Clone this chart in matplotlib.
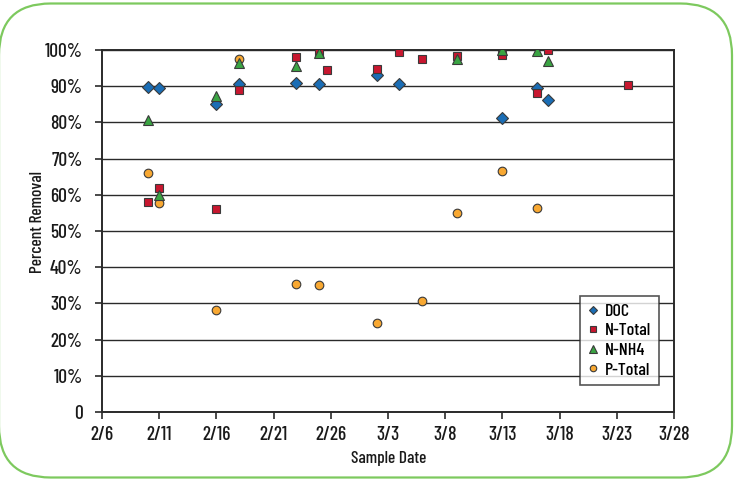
import matplotlib
matplotlib.use("Agg")
import matplotlib.pyplot as plt
import matplotlib.dates as mdates
from matplotlib.patches import FancyBboxPatch
from matplotlib.ticker import FixedLocator
import pandas as pd

plt.rcParams['font.family'] = ['Barlow Condensed', 'DejaVu Sans']
plt.rcParams['font.weight'] = 'medium'

doc_dates = ['2009-02-10', '2009-02-11', '2009-02-16', '2009-02-18', '2009-02-23', '2009-02-25',
             '2009-03-02', '2009-03-04', '2009-03-13', '2009-03-16', '2009-03-17']
doc_vals = [89.9, 89.6, 85.1, 90.6, 91.0, 90.6, 93.2, 90.5, 81.3, 89.6, 86.3]

ntot_dates = ['2009-02-10', '2009-02-11', '2009-02-16', '2009-02-18', '2009-02-23', '2009-02-25',
              '2009-02-25 16:00', '2009-03-02', '2009-03-04', '2009-03-06', '2009-03-09',
              '2009-03-13', '2009-03-16', '2009-03-17', '2009-03-24']
ntot_vals = [58.0, 61.9, 56.1, 88.9, 98.2, 99.3, 94.6, 94.8, 99.5, 97.4, 98.4, 98.7, 88.0, 100.0, 90.3]

nh4_dates = ['2009-02-10', '2009-02-11', '2009-02-16', '2009-02-18', '2009-02-23', '2009-02-25',
             '2009-03-09', '2009-03-13', '2009-03-16', '2009-03-17']
nh4_vals = [80.7, 59.9, 87.4, 96.5, 95.6, 99.1, 97.4, 100.0, 99.6, 97.0]

ptot_dates = ['2009-02-10', '2009-02-11', '2009-02-16', '2009-02-18', '2009-02-23', '2009-02-25',
              '2009-03-02', '2009-03-06', '2009-03-09', '2009-03-13', '2009-03-16']
ptot_vals = [65.9, 57.6, 28.3, 97.4, 35.4, 35.2, 24.7, 30.7, 55.0, 66.7, 56.4]

x_ticks = ['2009-02-06', '2009-02-11', '2009-02-16', '2009-02-21', '2009-02-26', '2009-03-03',
           '2009-03-08', '2009-03-13', '2009-03-18', '2009-03-23', '2009-03-28']
x_tick_labels = ['2/6', '2/11', '2/16', '2/21', '2/26', '3/3', '3/8', '3/13', '3/18', '3/23', '3/28']
y_ticks = [0, 10, 20, 30, 40, 50, 60, 70, 80, 90, 100]
y_tick_labels = ['0', '10%', '20%', '30%', '40%', '50%', '60%', '70%', '80%', '90%', '100%']

W, H = 738, 482
fig = plt.figure(figsize=(W / 100, H / 100), dpi=100)
fig.patch.set_facecolor('white')

# rounded green frame
frame = FancyBboxPatch((-1 / W, 4.5 / H), 733 / W, 474 / H,
                       boxstyle="round,pad=0,rounding_size=0.07",
                       transform=fig.transFigure, facecolor='none',
                       edgecolor='#7dc95e', linewidth=1.6, mutation_aspect=W / H)
fig.patches.append(frame)

ax = fig.add_axes([102 / W, 1 - 412 / H, 572 / W, 362 / H])

def d(lst):
    return mdates.date2num(pd.to_datetime(lst, format='mixed'))

ec = '#3a3a3a'
hp = ax.plot(d(ptot_dates), ptot_vals, 'o', ms=6.2, mfc='#f8a832', mec=ec, mew=0.8,
             ls='none', label='P-Total', zorder=3)[0]
hd = ax.plot(d(doc_dates), doc_vals, 'D', ms=6.0, mfc='#1a6db5', mec=ec, mew=0.8,
             ls='none', label='DOC', zorder=4)[0]
hn = ax.plot(d(ntot_dates), ntot_vals, 's', ms=5.3, mfc='#c8172f', mec=ec, mew=0.8,
             ls='none', label='N-Total', zorder=5)[0]
ht = ax.plot(d(nh4_dates), nh4_vals, '^', ms=7.2, mfc='#3aa443', mec=ec, mew=0.8,
             ls='none', label='N-NH4', zorder=6)[0]

ax.set_xlim(d(['2009-02-06'])[0], d(['2009-03-28'])[0])
ax.set_ylim(0, 100)
ax.xaxis.set_major_locator(FixedLocator(d(x_ticks)))
ax.set_xticklabels(x_tick_labels)
ax.set_yticks(y_ticks)
ax.set_yticklabels(y_tick_labels)

ax.grid(axis='y', color='#2a2a2a', linewidth=1.0, zorder=1)
ax.set_axisbelow(True)
for s in ax.spines.values():
    s.set_color('#2a2a2a')
    s.set_linewidth(1.4)
ax.tick_params(axis='both', direction='out', length=5, width=1.2, color='#2a2a2a',
               labelsize=14, labelcolor='#1a1a1a')
ax.tick_params(axis='x', pad=5)
ax.tick_params(axis='y', pad=9)

fig.text(389 / W, 1 - 459 / H, 'Sample Date', fontsize=12.5, color='#1a1a1a',
         ha='center', va='center')
fig.text(38 / W, 1 - 222 / H, 'Percent Removal', fontsize=12.5, color='#1a1a1a',
         ha='center', va='center', rotation=90)

leg = ax.legend(handles=[hd, hn, ht, hp], loc='upper left',
                bbox_to_anchor=((580 - 102) / 572, (412 - 296) / 362), borderaxespad=0,
                frameon=True, fancybox=False,
                fontsize=13, handlelength=0.6, handletextpad=0.4, borderpad=0.4,
                labelspacing=0.22, markerscale=0.75, edgecolor='#2a2a2a')
leg.get_frame().set_linewidth(1.2)

fig.savefig('out.png', dpi=100)
